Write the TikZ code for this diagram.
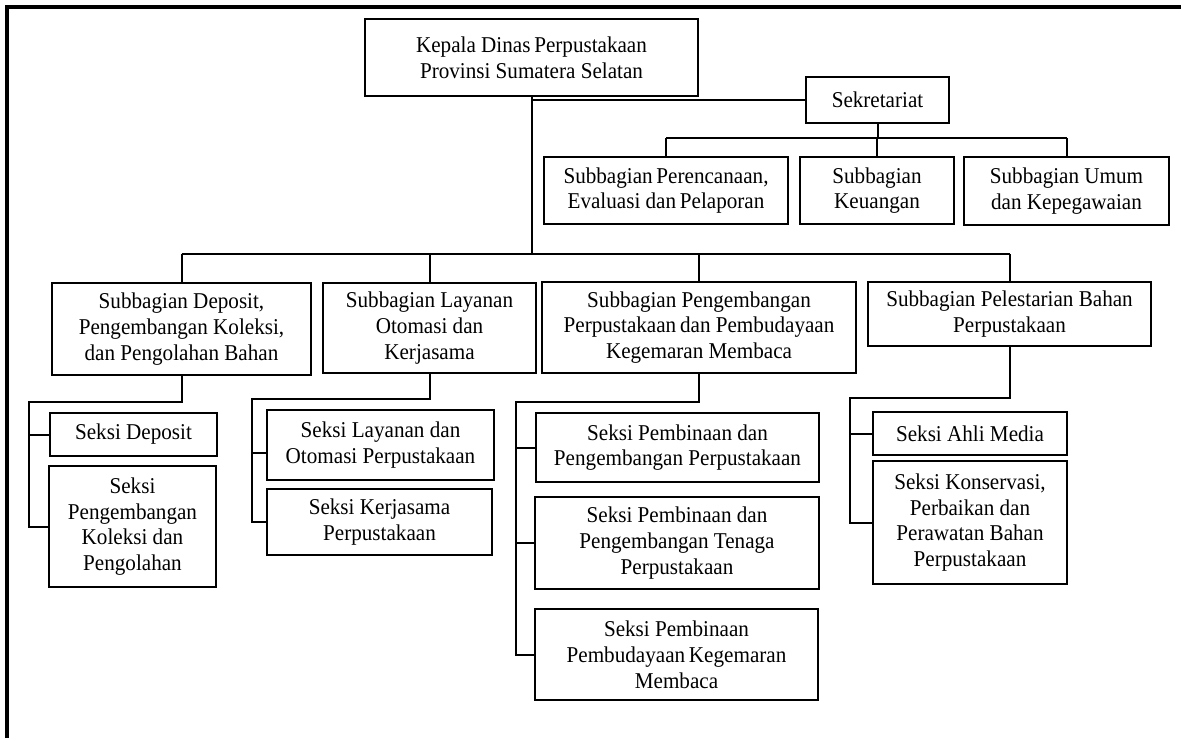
\documentclass[tikz,border=0pt]{standalone}
\usepackage{fontspec}
\setmainfont{Liberation Serif}[FakeStretch=0.935]
\begin{document}
\begin{tikzpicture}[x=0.5pt, y=-0.5pt,
  unit/.style={draw, line width=1pt, align=center, inner sep=0pt,
    font=\fontsize{11.3}{12.9}\selectfont},
  wh/.style 2 args={minimum width=#1*0.5pt, minimum height=#2*0.5pt},
  link/.style={line width=1pt}]

\useasboundingbox (0,0) rectangle (1181,738);

\def\ysek{138}; % sekretariat bus
\def\ybus{254}; % main bus
\def\xdep{29}; % deposit rail
\def\xlay{252}; % layanan rail
\def\xpeng{516}; % pengembangan rail
\def\xpel{850}; % pelestarian rail

% frame
\draw[line width=1.75pt] (7,738) -- (7,7) -- (1181,7);

% top
\node[unit, wh={333}{77}] (kepala) at (531.5,57.5) {Kepala Dinas\,Perpustakaan\\Provinsi Sumatera Selatan};
\node[unit, wh={143}{46}] (sekretariat) at (877.5,100) {Sekretariat};

\node[unit, wh={244}{67}] (perencanaan) at (666,190.5) {Subbagian\,Perencanaan,\\Evaluasi dan\,Pelaporan};
\node[unit, wh={154}{67}] (keuangan) at (877,190.5) {Subbagian\\Keuangan};
\node[unit, wh={205}{68}] (umum) at (1066.5,191) {Subbagian Umum\\dan Kepegawaian};

% subbagian row
\node[unit, wh={259}{92}] (deposit) at (181.5,329) {Subbagian Deposit,\\Pengembangan Koleksi,\\dan Pengolahan Bahan};
\node[unit, wh={213}{90}] (layanan) at (429.5,328) {Subbagian Layanan\\Otomasi dan\\Kerjasama};
\node[unit, wh={314}{91}] (pengembangan) at (699,327.5) {Subbagian Pengembangan\\Perpustakaan\,dan Pembudayaan\\Kegemaran Membaca};
\node[unit, wh={283}{64}] (pelestarian) at (1009.5,314) {Subbagian Pelestarian Bahan\\Perpustakaan};

% seksi
\node[unit, wh={167}{43}] (sDeposit) at (133.5,434.5) {Seksi Deposit};
\node[unit, wh={167}{121}] (sKoleksi) at (132.5,526.5) {Seksi\\Pengembangan\\Koleksi dan\\Pengolahan};

\node[unit, wh={227}{70}] (sOtomasi) at (380.5,445) {Seksi Layanan dan\\Otomasi Perpustakaan};
\node[unit, wh={225}{66}] (sKerjasama) at (379.5,522) {Seksi Kerjasama\\Perpustakaan};

\node[unit, wh={283}{69}] (sPembinaanA) at (677.5,447.5) {Seksi Pembinaan dan\\Pengembangan Perpustakaan};
\node[unit, wh={284}{92}] (sPembinaanB) at (677,543) {Seksi Pembinaan dan\\Pengembangan Tenaga\\Perpustakaan};
\node[unit, wh={283}{91}] (sPembinaanC) at (676.5,654.5) {Seksi Pembinaan\\Pembudayaan\,Kegemaran\\Membaca};

\node[unit, wh={194}{43}] (sAhli) at (970,433.5) {Seksi Ahli Media};
\node[unit, wh={194}{123}] (sKonservasi) at (970,522.5) {Seksi Konservasi,\\Perbaikan dan\\Perawatan Bahan\\Perpustakaan};

\coordinate (busS) at (0,\ysek);
\coordinate (busM) at (0,\ybus);
\coordinate (rDep) at (\xdep,402);
\coordinate (rLay) at (\xlay,399);
\coordinate (rPeng) at (\xpeng,402);
\coordinate (rPel) at (\xpel,398);
\coordinate (oStub) at ([yshift=-4pt]sOtomasi.west);

% trunk
\draw[link] (kepala.south) -- (kepala.south |- busM);
\draw[link] (kepala.south |- sekretariat.west) -- (sekretariat.west);

% sekretariat
\draw[link] (sekretariat.south) -- (sekretariat.south |- busS);
\draw[link] (perencanaan.north |- busS) -- (umum.north |- busS);
\foreach \n in {perencanaan, keuangan, umum}
  \draw[link] (\n.north |- busS) -- (\n.north);

% main bus
\draw[link] (deposit.north |- busM) -- (pelestarian.north |- busM);
\foreach \n in {deposit, layanan, pengembangan, pelestarian}
  \draw[link] (\n.north |- busM) -- (\n.north);

% deposit
\draw[link] (deposit.south) -- (deposit.south |- rDep) -- (rDep) -- (rDep |- sKoleksi.west) -- (sKoleksi.west);
\draw[link] (rDep |- sDeposit.west) -- (sDeposit.west);

% layanan
\draw[link] (layanan.south) -- (layanan.south |- rLay) -- (rLay) -- (rLay |- sKerjasama.west) -- (sKerjasama.west);
\draw[link] (rLay |- oStub) -- (oStub);

% pengembangan
\draw[link] (pengembangan.south) -- (pengembangan.south |- rPeng) -- (rPeng) -- (rPeng |- sPembinaanC.west) -- (sPembinaanC.west);
\draw[link] (rPeng |- sPembinaanA.west) -- (sPembinaanA.west);
\draw[link] (rPeng |- sPembinaanB.west) -- (sPembinaanB.west);

% pelestarian
\draw[link] (pelestarian.south) -- (pelestarian.south |- rPel) -- (rPel) -- (rPel |- sKonservasi.west) -- (sKonservasi.west);
\draw[link] (rPel |- sAhli.west) -- (sAhli.west);

\end{tikzpicture}
\end{document}
